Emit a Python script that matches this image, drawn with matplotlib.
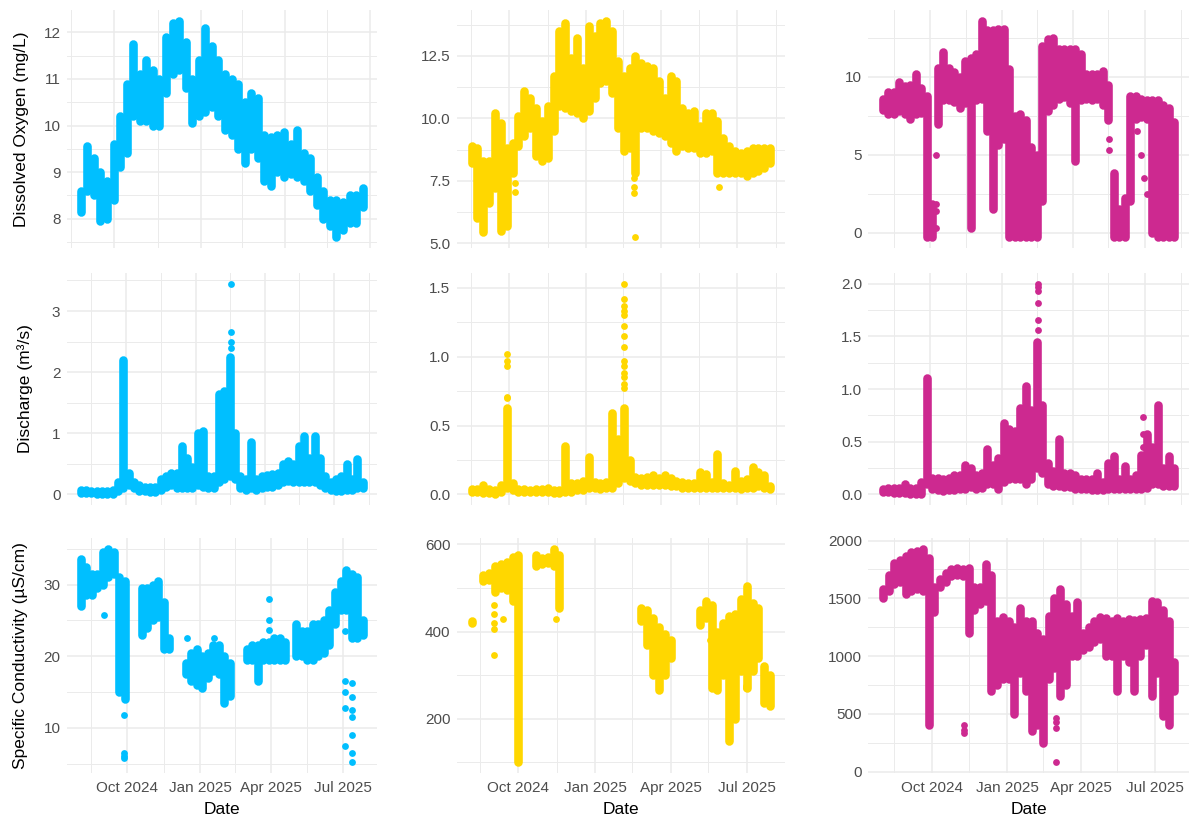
import matplotlib
matplotlib.use("Agg")
import matplotlib.pyplot as plt
import matplotlib.dates as mdates
import matplotlib.ticker as mticker
import numpy as np
import pandas as pd

nan = np.nan

# colours of the three sites
site_colors = ["#00BFFF", "#FFD700", "#CD2990"]

# ---- Dissolved oxygen (mg/L), weekly low / high of the point cloud ----
do_blue_start = "2024-08-26"
do_blue_lo = [8.15, 8.6, 8.5, 7.95, 8.0, 8.4, 9.1, 9.4, 10.2, 10.1, 10.1, 10.0, 10.0, 10.7, 11.1, 11.2, 10.8,
              10.05, 10.2, 10.3, 10.4, 10.2, 9.9, 9.8, 9.5, 9.2, 9.5, 9.3, 8.8, 8.7, 9.0, 8.9, 8.95, 8.9, 8.8,
              8.6, 8.3, 8.0, 7.85, 7.6, 7.75, 7.9, 7.9, 8.25]
do_blue_hi = [8.6, 9.55, 9.3, 9.0, 8.8, 9.6, 10.2, 10.9, 11.75, 11.1, 11.4, 11.2, 11.0, 11.9, 12.2, 12.25, 11.8,
              11.0, 11.4, 12.1, 11.7, 11.4, 11.1, 11.0, 10.9, 10.5, 10.7, 10.6, 9.8, 9.75, 9.8, 9.85, 9.6, 9.9,
              9.4, 9.3, 8.9, 8.6, 8.4, 8.4, 8.35, 8.5, 8.5, 8.65]

do_gold_start = "2024-08-17"
do_gold_lo = [8.2, 6.0, 5.45, 6.6, 7.2, 5.5, 5.7, 7.8, 8.9, 9.3, 9.6, 8.5, 8.3, 8.4, 9.5, 10.5, 10.4, 10.3, 10.2,
              10.0, 10.3, 10.8, 11.4, 11.5, 11.0, 9.6, 8.7, 8.8, 7.8, 9.6, 9.6, 9.5, 9.4, 9.3, 9.0, 8.7, 8.9, 8.8,
              8.8, 8.6, 8.6, 8.7, 7.8, 7.8, 7.8, 7.8, 7.8, 7.7, 7.8, 7.9, 8.0, 8.2]
do_gold_hi = [8.9, 8.8, 8.3, 8.3, 10.2, 9.8, 8.8, 9.0, 10.1, 11.1, 10.8, 10.4, 9.9, 10.5, 11.7, 13.5, 13.8, 12.4,
              13.2, 12.0, 13.7, 13.3, 13.8, 13.9, 13.5, 12.3, 11.7, 12.0, 12.5, 12.2, 12.1, 12.0, 11.5, 10.8, 11.7,
              11.5, 10.4, 10.2, 10.3, 9.7, 10.2, 10.2, 9.9, 9.2, 8.9, 8.7, 8.6, 8.7, 8.8, 8.8, 8.8, 8.8]
do_gold_out_dates = ["2024-10-08", "2024-10-08", "2025-02-27", "2025-02-27", "2025-02-27", "2025-02-28",
                     "2025-06-09"]
do_gold_out_vals = [7.4, 7.05, 7.6, 7.25, 7.0, 5.25, 7.25]

do_pink_start = "2024-08-02"
do_pink_lo = [7.9, 7.6, 7.6, 7.8, 7.6, 7.3, 7.6, 7.7, -0.3, -0.3, 7.0, 8.5, 8.5, 8.4, 8.0, 8.3, 0.3, 8.5, 8.6,
              6.5, 1.5, 5.6, 6.0, -0.3, -0.3, -0.3, -0.3, -0.3, -0.3, 2.0, 7.8, 8.2, 8.6, 8.7, 8.3, 4.6, 8.5, 8.6,
              8.5, 8.6, 8.2, 7.2, -0.3, -0.3, -0.3, 2.0, 7.3, 7.4, 7.3, 0.0, -0.3, -0.3, -0.3, -0.3]
do_pink_hi = [8.6, 9.0, 9.0, 9.7, 9.4, 9.5, 10.2, 9.3, 8.8, 1.8, 10.6, 11.6, 10.6, 10.3, 10.0, 11.0, 11.2, 11.5,
              13.6, 13.0, 13.0, 13.1, 13.1, 10.5, 7.5, 7.6, 7.2, 5.5, 5.0, 12.0, 12.4, 12.5, 11.8, 11.8, 11.8,
              11.8, 11.5, 10.2, 10.2, 10.2, 10.4, 9.5, 3.8, 1.5, 2.2, 8.8, 8.8, 8.6, 8.5, 8.5, 8.5, 8.2, 8.0, 7.1]
do_pink_out_dates = ["2024-10-09", "2024-10-09", "2024-10-09", "2024-10-09", "2025-05-17", "2025-05-17",
                     "2025-06-22", "2025-06-26", "2025-06-30", "2025-07-04"]
do_pink_out_vals = [5.0, 1.8, 1.4, 0.3, 6.0, 5.3, 6.5, 5.0, 3.5, 2.5]

# ---- Discharge (m3/s) ----
q_blue_start = "2024-08-02"
q_blue_lo = [0.02, 0.03, 0.02, 0.0, 0.0, 0.0, 0.01, 0.05, 0.1, 0.15, 0.1, 0.05, 0.05, 0.04, 0.04, 0.08, 0.12,
             0.15, 0.1, 0.1, 0.1, 0.1, 0.15, 0.12, 0.1, 0.1, 0.2, 0.25, 0.3, 0.25, 0.1, 0.08, 0.1, 0.08, 0.1,
             0.12, 0.12, 0.15, 0.2, 0.22, 0.2, 0.2, 0.2, 0.2, 0.2, 0.15, 0.1, 0.08, 0.05, 0.05, 0.08, 0.08, 0.1,
             0.1]
q_blue_hi = [0.07, 0.07, 0.06, 0.05, 0.05, 0.06, 0.08, 0.2, 2.2, 0.35, 0.2, 0.15, 0.12, 0.12, 0.12, 0.25, 0.3,
             0.35, 0.35, 0.8, 0.6, 0.45, 1.0, 1.03, 0.3, 0.3, 1.65, 1.7, 2.25, 1.0, 0.3, 0.25, 0.85, 0.25, 0.3,
             0.32, 0.33, 0.35, 0.5, 0.55, 0.5, 0.8, 0.95, 0.6, 0.95, 0.6, 0.3, 0.2, 0.25, 0.3, 0.5, 0.25, 0.58,
             0.2]
q_blue_out_dates = ["2025-02-16", "2025-02-16", "2025-02-16", "2025-02-16"]
q_blue_out_vals = [3.45, 2.65, 2.5, 2.4]

q_gold_start = "2024-08-17"
q_gold_lo = [0.02, 0.02, 0.01, 0.01, 0.0, 0.02, 0.05, 0.03, 0.02, 0.02, 0.02, 0.02, 0.02, 0.02, 0.01, 0.01,
             0.02, 0.02, 0.03, 0.03, 0.05, 0.05, 0.04, 0.05, 0.05, 0.08, 0.12, 0.1, 0.08, 0.07, 0.07, 0.07, 0.07,
             0.07, 0.06, 0.06, 0.05, 0.05, 0.05, 0.05, 0.05, 0.05, 0.05, 0.05, 0.05, 0.05, 0.04, 0.05, 0.05,
             0.06, 0.05, 0.04]
q_gold_hi = [0.04, 0.04, 0.07, 0.04, 0.03, 0.07, 0.63, 0.08, 0.04, 0.04, 0.03, 0.04, 0.04, 0.05, 0.03, 0.03,
             0.35, 0.08, 0.08, 0.1, 0.27, 0.09, 0.08, 0.09, 0.59, 0.4, 0.63, 0.25, 0.13, 0.12, 0.13, 0.14, 0.12,
             0.14, 0.12, 0.1, 0.09, 0.08, 0.08, 0.16, 0.15, 0.09, 0.29, 0.08, 0.07, 0.17, 0.1, 0.11, 0.2, 0.16,
             0.14, 0.06]
q_gold_out_dates = ["2024-09-28"] * 5 + ["2025-02-15"] * 14
q_gold_out_vals = [1.02, 0.97, 0.93, 0.71, 0.7,
                   1.53, 1.42, 1.37, 1.33, 1.3, 1.22, 1.15, 1.07, 0.97, 0.93, 0.88, 0.85, 0.8, 0.77]

q_pink_start = "2024-08-02"
q_pink_lo = [0.02, 0.02, 0.01, 0.01, 0.01, 0.0, 0.0, 0.0, 0.1, 0.05, 0.04, 0.03, 0.04, 0.04, 0.05, 0.05, 0.07,
             0.05, 0.06, 0.1, 0.1, 0.05, 0.12, 0.15, 0.15, 0.15, 0.1, 0.15, 0.25, 0.2, 0.1, 0.08, 0.08, 0.07,
             0.07, 0.05, 0.05, 0.05, 0.04, 0.04, 0.04, 0.05, 0.05, 0.05, 0.05, 0.05, 0.05, 0.05, 0.06, 0.1, 0.1,
             0.08, 0.08, 0.08]
q_pink_hi = [0.05, 0.06, 0.06, 0.06, 0.1, 0.06, 0.06, 0.12, 1.1, 0.16, 0.16, 0.15, 0.16, 0.18, 0.18, 0.28, 0.25,
             0.18, 0.2, 0.43, 0.28, 0.35, 0.68, 0.62, 0.6, 0.82, 1.03, 0.8, 1.45, 0.85, 0.3, 0.22, 0.53, 0.2,
             0.2, 0.18, 0.15, 0.15, 0.15, 0.2, 0.12, 0.3, 0.36, 0.15, 0.27, 0.15, 0.18, 0.37, 0.57, 0.45, 0.85,
             0.25, 0.36, 0.25]
q_pink_out_dates = ["2025-02-15"] * 6 + ["2025-06-29"] * 3
q_pink_out_vals = [2.0, 1.97, 1.93, 1.82, 1.65, 1.56, 0.73, 0.57, 0.45]

# ---- Specific conductivity (uS/cm) ----
sc_blue_start = "2024-08-03"
sc_blue_lo = [27.0, 28.5, 28.5, 29.5, 30.0, 31.0, 31.5, 15.0, 14.0, nan, nan, 23.0, 24.0, 25.0, 25.5, 21.0,
              21.0, nan, nan, 17.5, 16.5, 16.0, 15.5, 17.0, 18.0, 17.5, 13.5, 14.5, nan, nan, 19.5, 19.5, 16.5,
              19.5, 19.5, 19.5, 19.5, 19.5, nan, 20.0, 20.0, 19.5, 19.5, 20.0, 20.5, 21.5, 24.5, 26.5, 26.5,
              22.5, 22.5, 23.0]
sc_blue_hi = [33.5, 32.5, 31.5, 31.5, 34.5, 35.0, 34.5, 31.0, 30.5, nan, nan, 29.5, 29.5, 30.0, 30.5, 27.5,
              22.5, nan, nan, 19.0, 20.5, 21.0, 20.0, 20.5, 21.5, 21.5, 20.0, 19.0, nan, nan, 21.0, 21.5, 21.5,
              22.0, 22.0, 22.5, 22.5, 22.0, nan, 24.5, 23.5, 23.5, 24.5, 24.5, 25.0, 26.5, 29.0, 30.5, 32.0,
              31.5, 31.0, 25.0]
sc_blue_out_dates = (["2024-09-02"] + ["2024-09-27"] * 4 + ["2024-12-15", "2025-01-19"]
                     + ["2025-03-30"] * 3 + ["2025-07-04"] * 5 + ["2025-07-12"] * 7)
sc_blue_out_vals = [25.7, 11.8, 6.5, 6.1, 5.8, 22.5, 22.5, 28.0, 25.0, 23.7,
                    23.5, 16.5, 15.0, 12.8, 7.5, 16.3, 14.3, 12.5, 11.5, 9.0, 6.5, 5.2]

sc_gold_start = "2024-08-06"
sc_gold_lo = [420, nan, 515, 518, 490, 500, 495, 470, 100, nan, nan, 550, 555, 558, 550, 455,
              nan, nan, nan, nan, nan, nan, nan, nan, nan, nan, nan, nan, nan,
              425, 370, 300, 265, 300, 340, nan, nan, nan, nan,
              415, 430, 270, 265, 300, 150, 200, 310, 270, 310, 340, 235, 230]
sc_gold_hi = [425, nan, 530, 535, 550, 555, 560, 572, 575, nan, nan, 575, 568, 572, 590, 575,
              nan, nan, nan, nan, nan, nan, nan, nan, nan, nan, nan, nan, nan,
              455, 450, 430, 410, 395, 380, nan, nan, nan, nan,
              450, 470, 460, 400, 420, 435, 440, 475, 505, 465, 455, 320, 300]
sc_gold_out_dates = ["2024-09-02"] * 5 + ["2024-09-12", "2024-11-15", "2025-05-18", "2025-06-30", "2025-06-30"]
sc_gold_out_vals = [460, 440, 420, 405, 345, 428, 428, 380, 275, 270]

sc_pink_start = "2024-08-02"
sc_pink_lo = [1500, 1560, 1620, 1640, 1540, 1560, 1580, 1560, 400, 1380, 1600, 1640, 1690, 1700, 1690, 1200,
              1400, 1450, 1480, 700, 750, 800, 800, 500, 850, 700, 350, 400, 250, 800, 900, 650, 750, 1000,
              1000, 1050, 1080, 1120, 1150, 1000, 1000, 700, 1000, 950, 700, 1000, 1100, 650, 850, 480, 400, 700]
sc_pink_hi = [1580, 1700, 1810, 1830, 1870, 1900, 1910, 1930, 1850, 1600, 1670, 1720, 1750, 1760, 1750, 1760,
              1600, 1600, 1800, 1700, 1300, 1340, 1300, 1250, 1420, 1300, 1300, 1200, 1150, 1350, 1500, 1580,
              1450, 1350, 1470, 1200, 1250, 1300, 1340, 1330, 1300, 1330, 1300, 1320, 1310, 1320, 1330, 1480,
              1470, 1400, 1300, 950]
sc_pink_out_dates = ["2024-11-09"] * 3 + ["2025-03-02"] * 4
sc_pink_out_vals = [400, 360, 330, 460, 430, 380, 80]

ylabels = ["Dissolved Oxygen (mg/L)", "Discharge (m³/s)", "Specific Conductivity (µS/cm)"]

plt.rcParams['font.family'] = ['Liberation Sans', 'DejaVu Sans']

W, H = 1190, 821
fig = plt.figure(figsize=(W / 100, H / 100), dpi=100)
col_px = [(66.7, 376.7), (456.7, 785.0), (868.3, 1189.0)]
row_px = [(10, 248), (273, 505), (538, 773)]

MS = 4.9    # point diameter in pt
BAND = 6.2  # width of the weekly point columns in pt


def draw(ax, start, lo, hi, color, out_dates=None, out_vals=None):
    x = pd.date_range(start, periods=len(lo), freq="7D")
    lo = np.array(lo, dtype=float)
    hi = np.array(hi, dtype=float)
    ok = ~np.isnan(lo)
    ax.vlines(x[ok], lo[ok], hi[ok], colors=color, linewidth=BAND, capstyle="round", zorder=3)
    ax.scatter(x[ok], lo[ok], s=MS ** 2, color=color, linewidths=0, zorder=3)
    ax.scatter(x[ok], hi[ok], s=MS ** 2, color=color, linewidths=0, zorder=3)
    if out_dates is not None:
        ax.scatter(pd.to_datetime(out_dates), out_vals, s=MS ** 2, color=color, linewidths=0, zorder=3)


panels = [
    [(do_blue_start, do_blue_lo, do_blue_hi, None, None),
     (do_gold_start, do_gold_lo, do_gold_hi, do_gold_out_dates, do_gold_out_vals),
     (do_pink_start, do_pink_lo, do_pink_hi, do_pink_out_dates, do_pink_out_vals)],
    [(q_blue_start, q_blue_lo, q_blue_hi, q_blue_out_dates, q_blue_out_vals),
     (q_gold_start, q_gold_lo, q_gold_hi, q_gold_out_dates, q_gold_out_vals),
     (q_pink_start, q_pink_lo, q_pink_hi, q_pink_out_dates, q_pink_out_vals)],
    [(sc_blue_start, sc_blue_lo, sc_blue_hi, sc_blue_out_dates, sc_blue_out_vals),
     (sc_gold_start, sc_gold_lo, sc_gold_hi, sc_gold_out_dates, sc_gold_out_vals),
     (sc_pink_start, sc_pink_lo, sc_pink_hi, sc_pink_out_dates, sc_pink_out_vals)],
]

# y breaks and label format per panel
yticks = [
    [([8, 9, 10, 11, 12], "%d"), ([5.0, 7.5, 10.0, 12.5], "%.1f"), ([0, 5, 10], "%d")],
    [([0, 1, 2, 3], "%d"), ([0.0, 0.5, 1.0, 1.5], "%.1f"), ([0.0, 0.5, 1.0, 1.5, 2.0], "%.1f")],
    [([10, 20, 30], "%d"), ([200, 400, 600], "%d"), ([0, 500, 1000, 1500, 2000], "%d")],
]
ylabel_x = [-0.121, -0.108, -0.124]

minor_dates = mdates.date2num(pd.to_datetime(["2024-05-16", "2024-08-16", "2024-11-16", "2025-02-14",
                                               "2025-05-16", "2025-08-16"]))

for r in range(3):
    for c in range(3):
        x0, x1 = col_px[c]
        y0, y1 = row_px[r]
        ax = fig.add_axes([x0 / W, 1 - y1 / H, (x1 - x0) / W, (y1 - y0) / H])
        start, lo, hi, od, ov = panels[r][c]
        draw(ax, start, lo, hi, site_colors[c], od, ov)

        major, fmt = yticks[r][c]
        step = major[1] - major[0]
        ax.yaxis.set_major_locator(mticker.FixedLocator(major))
        ax.yaxis.set_minor_locator(mticker.FixedLocator(
            [major[0] - step / 2] + [m + step / 2 for m in major]))
        ax.yaxis.set_major_formatter(mticker.FormatStrFormatter(fmt))

        ax.xaxis.set_major_locator(mdates.MonthLocator(bymonth=[1, 4, 7, 10]))
        ax.xaxis.set_major_formatter(mdates.DateFormatter("%b %Y"))
        ax.xaxis.set_minor_locator(mticker.FixedLocator(minor_dates))

        ax.grid(which="major", color="#EBEBEB", linewidth=1.1)
        ax.grid(which="minor", color="#EBEBEB", linewidth=0.7)
        ax.set_axisbelow(True)
        for s in ax.spines.values():
            s.set_visible(False)
        ax.tick_params(which="both", length=0, labelsize=11, labelcolor="#4D4D4D")
        ax.tick_params(axis="y", pad=4.5)
        ax.tick_params(axis="x", pad=6)

        if r < 2:
            ax.tick_params(axis="x", labelbottom=False)
        else:
            ax.set_xlabel("Date", fontsize=12.5, color="black")
            ax.xaxis.set_label_coords(0.5, -0.123)
        if c == 0:
            ax.set_ylabel(ylabels[r], fontsize=12.5, color="black")
            ax.yaxis.set_label_coords(ylabel_x[r], 0.5)

fig.savefig("out.png", dpi=100, facecolor="white")
